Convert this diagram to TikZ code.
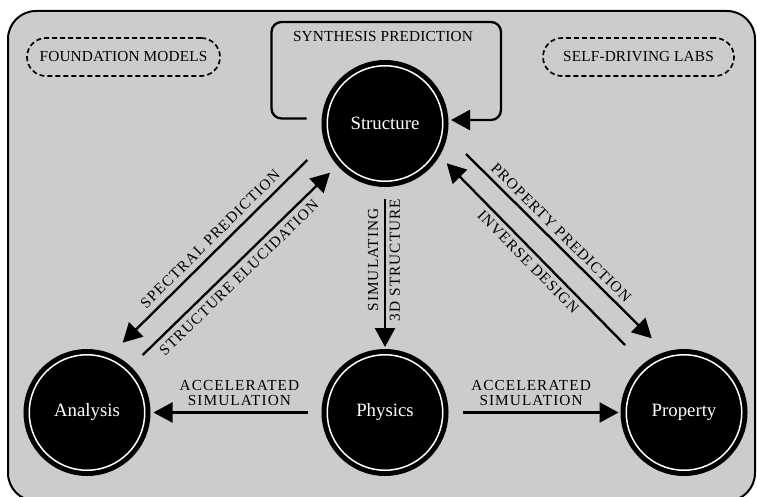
\documentclass[tikz,border=0pt]{standalone}
\usepackage{fontspec}
\setmainfont{Liberation Serif}
\newfontfamily\lblfont[LetterSpace=7]{Liberation Serif}
\newfontfamily\tagfont[LetterSpace=1]{Liberation Serif}
\usetikzlibrary{positioning,arrows.meta}

\begin{document}
\begin{tikzpicture}[x=1bp,y=-1bp,
    >={Triangle[length=19bp,width=20bp]},
    hub/.style={circle,fill=black,draw=black,line width=5bp,double=white,double distance=1.5bp,
        minimum size=115.5bp,inner sep=0,outer sep=5.75bp,text=white,font=\fontsize{18.8bp}{22bp}\selectfont},
    link/.style={->,line width=2.3bp},
    lbl/.style={inner sep=0,font=\lblfont\fontsize{15.3bp}{14.5bp}\selectfont},
    note/.style={inner sep=0,font=\tagfont\fontsize{15.3bp}{18bp}\selectfont},
    tag/.style={note,draw,line width=1.7bp,dash pattern=on 5bp off 3bp,rounded corners=19bp,minimum height=38bp}]
    \useasboundingbox (0,0) rectangle (757,497);
    \draw[line width=2bp,fill=black!20,rounded corners=28bp] (8,11) rectangle (755,501);

    \node[hub] (str) at (385,123.5) {Structure};
    \node[hub,below=162bp of str] (phy) {Physics};
    \node[hub,left=171bp of phy] (ana) {Analysis};
    \node[hub,right=172bp of phy] (prop) {Property};

    \node[tag,minimum width=193bp] (fm) at (123.5,57) {FOUNDATION MODELS};
    \node[tag,minimum width=191bp] (sdl) at (638.5,57) {SELF-DRIVING LABS};

    % synthesis loop
    \draw[link,rounded corners=10bp] ([shift={(-15,-5)}]str.west) -- ++(-35,0) |- (501,22) |- ([shift={(2.5,-3.5)}]str.east);
    \node[note] (syn) at (383,36.7) {SYNTHESIS PREDICTION};

    \draw[link,shorten <=14bp,shorten >=3bp] (phy) -- (ana)
        node[lbl,pos=0.48,above=6bp,align=center] (accl) {ACCELERATED\\SIMULATION};
    \draw[link,shorten <=14bp,shorten >=2bp] (phy) -- (prop)
        node[lbl,pos=0.48,above=6bp,align=center] (accr) {ACCELERATED\\SIMULATION};

    \draw[link,shorten <=12bp,shorten >=2bp] (str) -- (phy) coordinate[pos=0.45] (simmid);
    \node[lbl,rotate=90,anchor=south] (sim) at ([xshift=-6.5bp]simmid) {SIMULATING};
    \node[lbl,rotate=90,anchor=north] (sim3d) at ([xshift=4.5bp]simmid) {3D STRUCTURE};

    \draw[link] ([shift={(-77.7,36.5)}]str.center) -- ([shift={(35.7,-69.8)}]ana.center)
        node[lbl,pos=0.48,sloped,above,outer sep=7bp] (spec) {SPECTRAL PREDICTION};
    \draw[link] ([shift={(55.7,-57.5)}]ana.center) -- ([shift={(-55,49.2)}]str.center)
        node[lbl,pos=0.47,sloped,below,outer sep=6.5bp] (eluc) {STRUCTURE ELUCIDATION};
    \draw[link] ([shift={(81,30.5)}]str.center) -- ([shift={(-32.3,-74.2)}]prop.center)
        node[lbl,pos=0.47,sloped,above,outer sep=6bp] (pp) {PROPERTY PREDICTION};
    \draw[link] ([shift={(-59,-67.5)}]prop.center) -- ([shift={(61.7,39.8)}]str.center)
        node[lbl,pos=0.5,sloped,below,outer sep=5.5bp] (inv) {INVERSE DESIGN};
\end{tikzpicture}
\end{document}
